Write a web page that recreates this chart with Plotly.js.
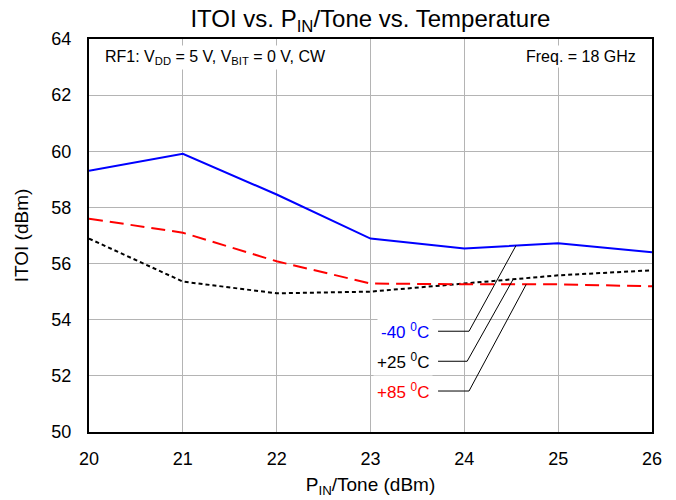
<!DOCTYPE html>
<html><head><meta charset="utf-8">
<script src="https://cdn.plot.ly/plotly-3.0.1.min.js"></script>
<style>html,body{margin:0;padding:0;background:#fff}#c{width:676px;height:500px}</style>
</head><body><div id="c"></div>
<script>
const pin = [20, 21, 22, 23, 24, 25, 26];
const itoiM40 = [59.31, 59.91, 58.46, 56.89, 56.54, 56.72, 56.40];
const itoiP25 = [56.89, 55.36, 54.94, 55.00, 55.29, 55.58, 55.76];
const itoiP85 = [57.60, 57.10, 56.08, 55.29, 55.26, 55.26, 55.19];
const xTicks = [20, 21, 22, 23, 24, 25, 26];
const yTicks = [50, 52, 54, 56, 58, 60, 62, 64];
const seriesNames = ["-40 <sup>0</sup>C", "+25 <sup>0</sup>C", "+85 <sup>0</sup>C"];
const seriesColors = ["#0000ff", "#000000", "#ff0000"];

const font = "Liberation Sans, Arial, Helvetica, sans-serif";

const traces = [
  {x: pin, y: itoiM40, mode: "lines", name: seriesNames[0], line: {color: seriesColors[0], width: 2}},
  {x: pin, y: itoiP25, mode: "lines", name: seriesNames[1], line: {color: seriesColors[1], width: 2, dash: "4px,3px"}},
  {x: pin, y: itoiP85, mode: "lines", name: seriesNames[2], line: {color: seriesColors[2], width: 2, dash: "14px,7px"}}
];

const labelY = [53.59, 52.52, 51.46];
const elbowX = [24.05, 24.03, 24.05];
const targetX = [24.55, 24.52, 24.66];
const labelEndX = 23.72;
const shapes = [];
const annotations = [];
for (let i = 0; i < 3; i++) {
  const ys = [itoiM40, itoiP25, itoiP85][i];
  const k = Math.floor(targetX[i]) - 20;
  const t = targetX[i] - Math.floor(targetX[i]);
  const ty = ys[k] + (ys[k + 1] - ys[k]) * t;
  shapes.push({type: "path", xref: "x", yref: "y",
    path: `M ${labelEndX} ${labelY[i]} L ${elbowX[i]} ${labelY[i]} L ${targetX[i]} ${ty}`,
    line: {color: "#000", width: 1}});
  annotations.push({x: 23.67, y: labelY[i], xref: "x", yref: "y", xanchor: "right", yanchor: "middle",
    text: seriesNames[i], showarrow: false, bgcolor: "#fff", borderpad: 3,
    font: {family: font, size: 17, color: seriesColors[i]}});
}
annotations.push({x: 0, y: 1, xref: "paper", yref: "paper", xanchor: "left", yanchor: "top",
  xshift: 13, yshift: -6, text: "RF1: V<sub>DD</sub> = 5 V, V<sub>BIT</sub> = 0 V, CW",
  showarrow: false, bgcolor: "#fff", borderpad: 2, font: {family: font, size: 16, color: "#000"}});
annotations.push({x: 1, y: 1, xref: "paper", yref: "paper", xanchor: "right", yanchor: "top",
  xshift: -13, yshift: -6, text: "Freq. = 18 GHz",
  showarrow: false, bgcolor: "#fff", borderpad: 2, font: {family: font, size: 16, color: "#000"}});

const layout = {
  width: 676, height: 500,
  margin: {l: 89, r: 24, t: 39, b: 68},
  paper_bgcolor: "#fff", plot_bgcolor: "#fff",
  showlegend: false,
  font: {family: font, color: "#000"},
  title: {text: "ITOI vs. P<sub>IN</sub>/Tone vs. Temperature", x: 0.548, xanchor: "center", y: 0.962, yanchor: "middle",
    font: {family: font, size: 24, color: "#000"}},
  xaxis: {range: [20, 26], tickvals: xTicks, ticktext: xTicks.map(String), showgrid: true, gridcolor: "#b4b4b4", gridwidth: 1.2,
    zeroline: false, showline: true, linecolor: "#000", linewidth: 2, mirror: true, ticks: "", ticklen: 0,
    ticklabelstandoff: 9,
    tickfont: {family: font, size: 18}, title: {text: "P<sub>IN</sub>/Tone (dBm)", font: {family: font, size: 19}, standoff: 10}},
  yaxis: {range: [50, 64], tickvals: yTicks, ticktext: yTicks.map(String), showgrid: true, gridcolor: "#b4b4b4", gridwidth: 1.2,
    zeroline: false, showline: true, linecolor: "#000", linewidth: 2, mirror: true, ticks: "", ticklen: 0,
    ticklabelstandoff: 12,
    tickfont: {family: font, size: 18}, title: {text: "ITOI (dBm)", font: {family: font, size: 19}, standoff: 18}},
  shapes: shapes,
  annotations: annotations
};
Plotly.newPlot("c", traces, layout, {staticPlot: true, displayModeBar: false});
</script></body></html>
